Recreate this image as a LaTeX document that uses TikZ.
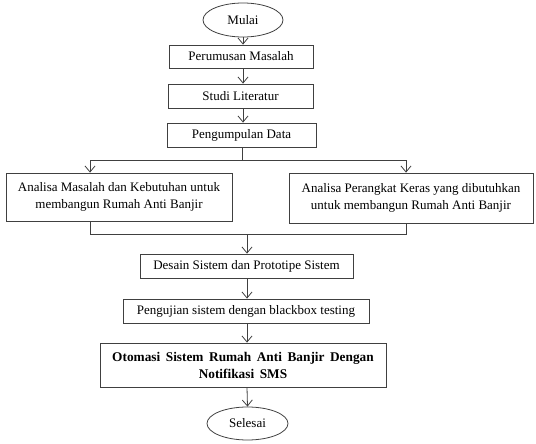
\documentclass[tikz,border=0pt]{standalone}
\usepackage{fontspec}
\setmainfont{Liberation Serif}
\usetikzlibrary{shapes.geometric,arrows.meta}
\newcommand\otofont{\fontsize{13.3}{17}\selectfont\bfseries\spaceskip=5.6pt plus 1pt\relax}
\begin{document}
\begin{tikzpicture}[x=1pt,y=-1pt,
  line width=0.8pt,
  every node/.style={font=\fontsize{13}{17}\selectfont},
  stepbox/.style={draw=black!75,inner sep=0pt,align=center},
  ends/.style={draw=black!75,ellipse,inner sep=0pt},
  arr/.style={draw=black!75,-{Straight Barb[length=6pt,width=10pt]}},
  ln/.style={draw=black!75}]
\useasboundingbox (0,0) rectangle (536,444);

\node[ends,minimum width=80pt,minimum height=34pt] (mulai) at (243,20) {Mulai};
\node[stepbox,minimum width=144pt,minimum height=23pt] (perumusan) at (241,56.5) {Perumusan Masalah};
\node[stepbox,minimum width=145pt,minimum height=24pt] (studi) at (240.5,96) {Studi Literatur};
\node[stepbox,minimum width=149pt,minimum height=24pt] (pengumpulan) at (241.5,135) {Pengumpulan Data};

\node[stepbox,minimum width=226pt,minimum height=48pt] (anmasalah) at (119,197)
  {Analisa Masalah dan Kebutuhan untuk\\membangun Rumah Anti Banjir};
\node[stepbox,minimum width=244pt,minimum height=50pt] (anperangkat) at (411,198)
  {Analisa Perangkat Keras yang dibutuhkan\\untuk membangun Rumah Anti Banjir};

\node[stepbox,minimum width=213pt,minimum height=24pt] (desain) at (246.5,266) {Desain Sistem dan Prototipe Sistem};
\node[stepbox,minimum width=246pt,minimum height=24pt] (pengujian) at (246,311) {Pengujian sistem dengan blackbox testing};
\node[stepbox,minimum width=286pt,minimum height=44pt,font=\otofont] (otomasi) at (243,365)
  {Otomasi Sistem Rumah Anti Banjir Dengan\\Notifikasi SMS};
\node[ends,minimum width=81pt,minimum height=33pt] (selesai) at (247.5,423.5) {Selesai};

\coordinate (split) at (242,160);
\coordinate (splitL) at (90,160);
\coordinate (splitR) at (406,160);
\coordinate (joinL) at (90,234);
\coordinate (joinR) at (406,234);
\coordinate (join) at (247,234);

\draw[arr] (mulai.south) -- (mulai.south |- perumusan.north);
\draw[arr] (mulai.south |- perumusan.south) -- (mulai.south |- studi.north);
\draw[arr] (mulai.south |- studi.south) -- (mulai.south |- pengumpulan.north);
\draw[ln] (split |- pengumpulan.south) -- (split);
\draw[ln] (splitL) -- (splitR);
\draw[arr] (splitL) -- (splitL |- anmasalah.north);
\draw[arr] (splitR) -- (splitR |- anperangkat.north);
\draw[ln] (joinL |- anmasalah.south) -- (joinL) -- (joinR) -- (joinR |- anperangkat.south);
\draw[arr] (join) -- (join |- desain.north);
\draw[arr] (join |- desain.south) -- (join |- pengujian.north);
\draw[arr] (join |- pengujian.south) -- (join |- otomasi.north);
\draw[arr] (join |- otomasi.south) -- (selesai.north);
\end{tikzpicture}
\end{document}
